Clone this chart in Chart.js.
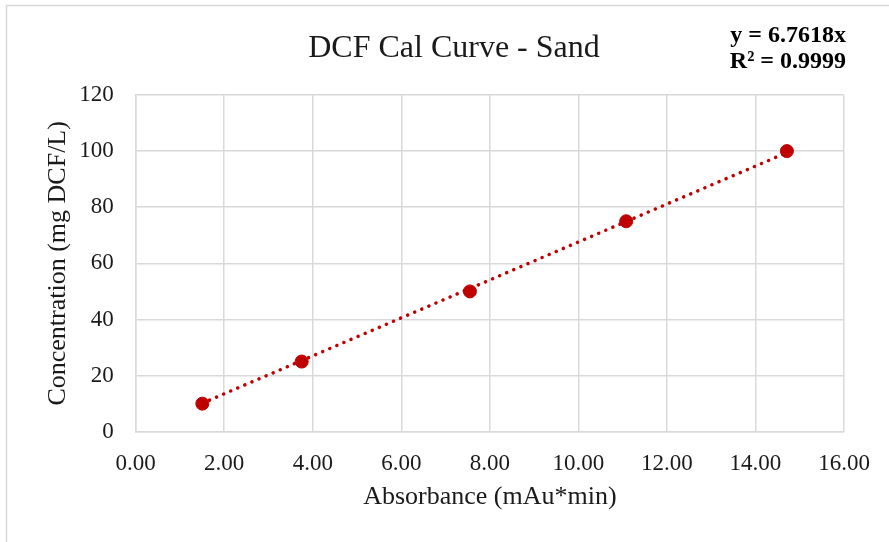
<!DOCTYPE html>
<html>
<head>
<meta charset="utf-8">
<script src="https://cdn.jsdelivr.net/npm/chart.js@4/dist/chart.umd.min.js"></script>
<style>
html,body{margin:0;padding:0;background:#fff;}
#wrap{position:relative;width:889px;height:542px;}
</style>
</head>
<body>
<div id="wrap"><canvas id="c" width="889" height="542"></canvas></div>
<script>
const absorbance = [1.505, 3.75, 7.55, 11.08, 14.71];
const concentration = [10, 25, 50, 75, 100];
const trendSlope = 6.7618;
const trendX = [1.505, 14.71];
const xTicks = [0, 2, 4, 6, 8, 10, 12, 14, 16];
const yTicks = [0, 20, 40, 60, 80, 100, 120];
const chartTitle = 'DCF Cal Curve - Sand';
const equationLines = ['y = 6.7618x', 'R² = 0.9999'];
const xTitle = 'Absorbance (mAu*min)';
const yTitle = 'Concentration (mg DCF/L)';

const RED = '#c00000';
const GRID = '#d9d9d9';
const TEXT = '#1a1a1a';
const FONT = '"Liberation Serif", "Times New Roman", serif';

const pts = absorbance.map((x, i) => ({x, y: concentration[i]}));
const trend = trendX.map(x => ({x, y: trendSlope * x}));

const decor = {
  id: 'decor',
  beforeDraw(chart) {
    const ctx = chart.ctx;
    ctx.save();
    ctx.fillStyle = '#fff';
    ctx.fillRect(0, 0, chart.width, chart.height);
    ctx.strokeStyle = GRID;
    ctx.lineWidth = 1.5;
    ctx.strokeRect(6.5, 5.5, 1000, 1000);
    ctx.restore();
  },
  afterDraw(chart) {
    const ctx = chart.ctx;
    ctx.save();
    ctx.fillStyle = TEXT;
    ctx.textBaseline = 'alphabetic';
    ctx.textAlign = 'center';
    ctx.font = '32px ' + FONT;
    ctx.fillText(chartTitle, 454, 57);
    ctx.font = 'bold 24px ' + FONT;
    ctx.textAlign = 'right';
    ctx.fillStyle = '#000';
    ctx.fillText(equationLines[0], 846, 42);
    ctx.fillText(equationLines[1], 846, 68);
    ctx.restore();
  }
};

new Chart(document.getElementById('c'), {
  type: 'scatter',
  data: {
    datasets: [
      {
        type: 'line',
        data: trend,
        borderColor: RED,
        borderWidth: 3.5,
        borderDash: [0.1, 7.6],
        borderCapStyle: 'round',
        pointRadius: 0,
        fill: false,
        order: 2
      },
      {
        data: pts,
        backgroundColor: RED,
        borderColor: RED,
        pointRadius: 6.5,
        pointHoverRadius: 6.5,
        order: 1
      }
    ]
  },
  options: {
    responsive: false,
    animation: false,
    events: [],
    layout: { padding: { top: 95, right: 45, bottom: 0, left: 0 } },
    plugins: { legend: { display: false }, tooltip: { enabled: false }, title: { display: false } },
    scales: {
      x: {
        type: 'linear',
        min: 0, max: 16,
        afterBuildTicks(s) { s.ticks = xTicks.map(v => ({value: v})); },
        afterFit(s) { s.height = 110.3; },
        grid: { color: GRID, lineWidth: 1.5, drawTicks: false },
        border: { color: GRID, width: 1.5 },
        ticks: {
          color: TEXT, padding: 18, maxRotation: 0,
          font: { family: FONT, size: 23 },
          callback: v => v.toFixed(2)
        },
        title: { display: true, text: xTitle, color: TEXT, font: { family: FONT, size: 26 }, padding: { top: 4, bottom: 29 } }
      },
      y: {
        type: 'linear',
        min: 0, max: 120,
        afterBuildTicks(s) { s.ticks = yTicks.map(v => ({value: v})); },
        afterFit(s) { s.width = 135.7; },
        grid: { color: GRID, lineWidth: 1.5, drawTicks: false },
        border: { color: GRID, width: 1.5 },
        ticks: {
          color: TEXT, padding: 22,
          font: { family: FONT, size: 23 }
        },
        title: { display: true, text: yTitle, color: TEXT, font: { family: FONT, size: 26 }, padding: { top: 43, bottom: 0 } }
      }
    }
  },
  plugins: [decor]
});
</script>
</body>
</html>
